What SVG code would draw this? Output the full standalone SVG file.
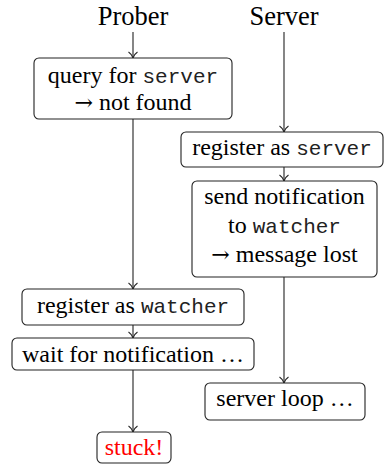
<svg xmlns="http://www.w3.org/2000/svg" width="385" height="465" viewBox="0 0 385 465">
<style>
  text { font-family: "Liberation Serif", "DejaVu Serif", "Times New Roman", serif; font-size: 24px; fill: #000; text-anchor: middle; }
  .head { font-size: 26.5px; }
  .tt { font-family: "Liberation Mono", "Courier New", "DejaVu Sans Mono", monospace; font-size: 21px; fill: #222; }
  .arr { font-family: "DejaVu Serif", "Liberation Serif", serif; font-size: 22px; }
  .box { fill: #fff; stroke: #222; stroke-width: 1.1; }
  .conn { fill: none; stroke: #222; stroke-width: 1.1; }
  .red { fill: #ff0000; }
</style>
<defs>
  <marker id="tip" markerUnits="userSpaceOnUse" markerWidth="14" markerHeight="14" viewBox="-7 -7 14 14" refX="0" refY="0" orient="auto" overflow="visible">
    <path d="M-6,-4.5 C-4.5,-2 -1.5,-0.6 0,0 C-1.5,0.6 -4.5,2 -6,4.5" fill="none" stroke="#222" stroke-width="1.1"/>
  </marker>
</defs>

<g id="connectors">
  <path class="conn" d="M133,32 V58" marker-end="url(#tip)"/>
  <path class="conn" d="M133,119 V289" marker-end="url(#tip)"/>
  <path class="conn" d="M133,325 V338" marker-end="url(#tip)"/>
  <path class="conn" d="M133,370 V432" marker-end="url(#tip)"/>
  <path class="conn" d="M284,32 V132" marker-end="url(#tip)"/>
  <path class="conn" d="M284,167 V181" marker-end="url(#tip)"/>
  <path class="conn" d="M284,277 V383" marker-end="url(#tip)"/>
</g>

<g id="prober">
  <text class="head" x="133" y="25">Prober</text>
</g>
<g id="server">
  <text class="head" x="284" y="25">Server</text>
</g>

<g id="query">
  <rect class="box" x="34" y="58" width="198" height="61" rx="5"/>
  <text x="133" y="83">query for <tspan class="tt">server</tspan></text>
  <text x="133" y="110"><tspan class="arr">→</tspan> not found</text>
</g>

<g id="register-server">
  <rect class="box" x="181" y="132" width="202" height="35" rx="5"/>
  <text x="282" y="155">register as <tspan class="tt">server</tspan></text>
</g>

<g id="send-notification">
  <rect class="box" x="192" y="181" width="185" height="96" rx="5"/>
  <text x="284.5" y="204">send notification</text>
  <text x="284.5" y="233">to <tspan class="tt">watcher</tspan></text>
  <text x="284.5" y="262"><tspan class="arr">→</tspan> message lost</text>
</g>

<g id="register-watcher">
  <rect class="box" x="22" y="289" width="222" height="36" rx="5"/>
  <text x="133" y="313">register as <tspan class="tt">watcher</tspan></text>
</g>

<g id="wait">
  <rect class="box" x="12" y="338" width="242" height="32" rx="5"/>
  <text x="133" y="362">wait for notification …</text>
</g>

<g id="server-loop">
  <rect class="box" x="205" y="383" width="160" height="37" rx="5"/>
  <text x="285" y="406">server loop …</text>
</g>

<g id="stuck">
  <rect class="box" x="97" y="432" width="74" height="31" rx="5"/>
  <text class="red" x="134" y="455">stuck!</text>
</g>
</svg>
